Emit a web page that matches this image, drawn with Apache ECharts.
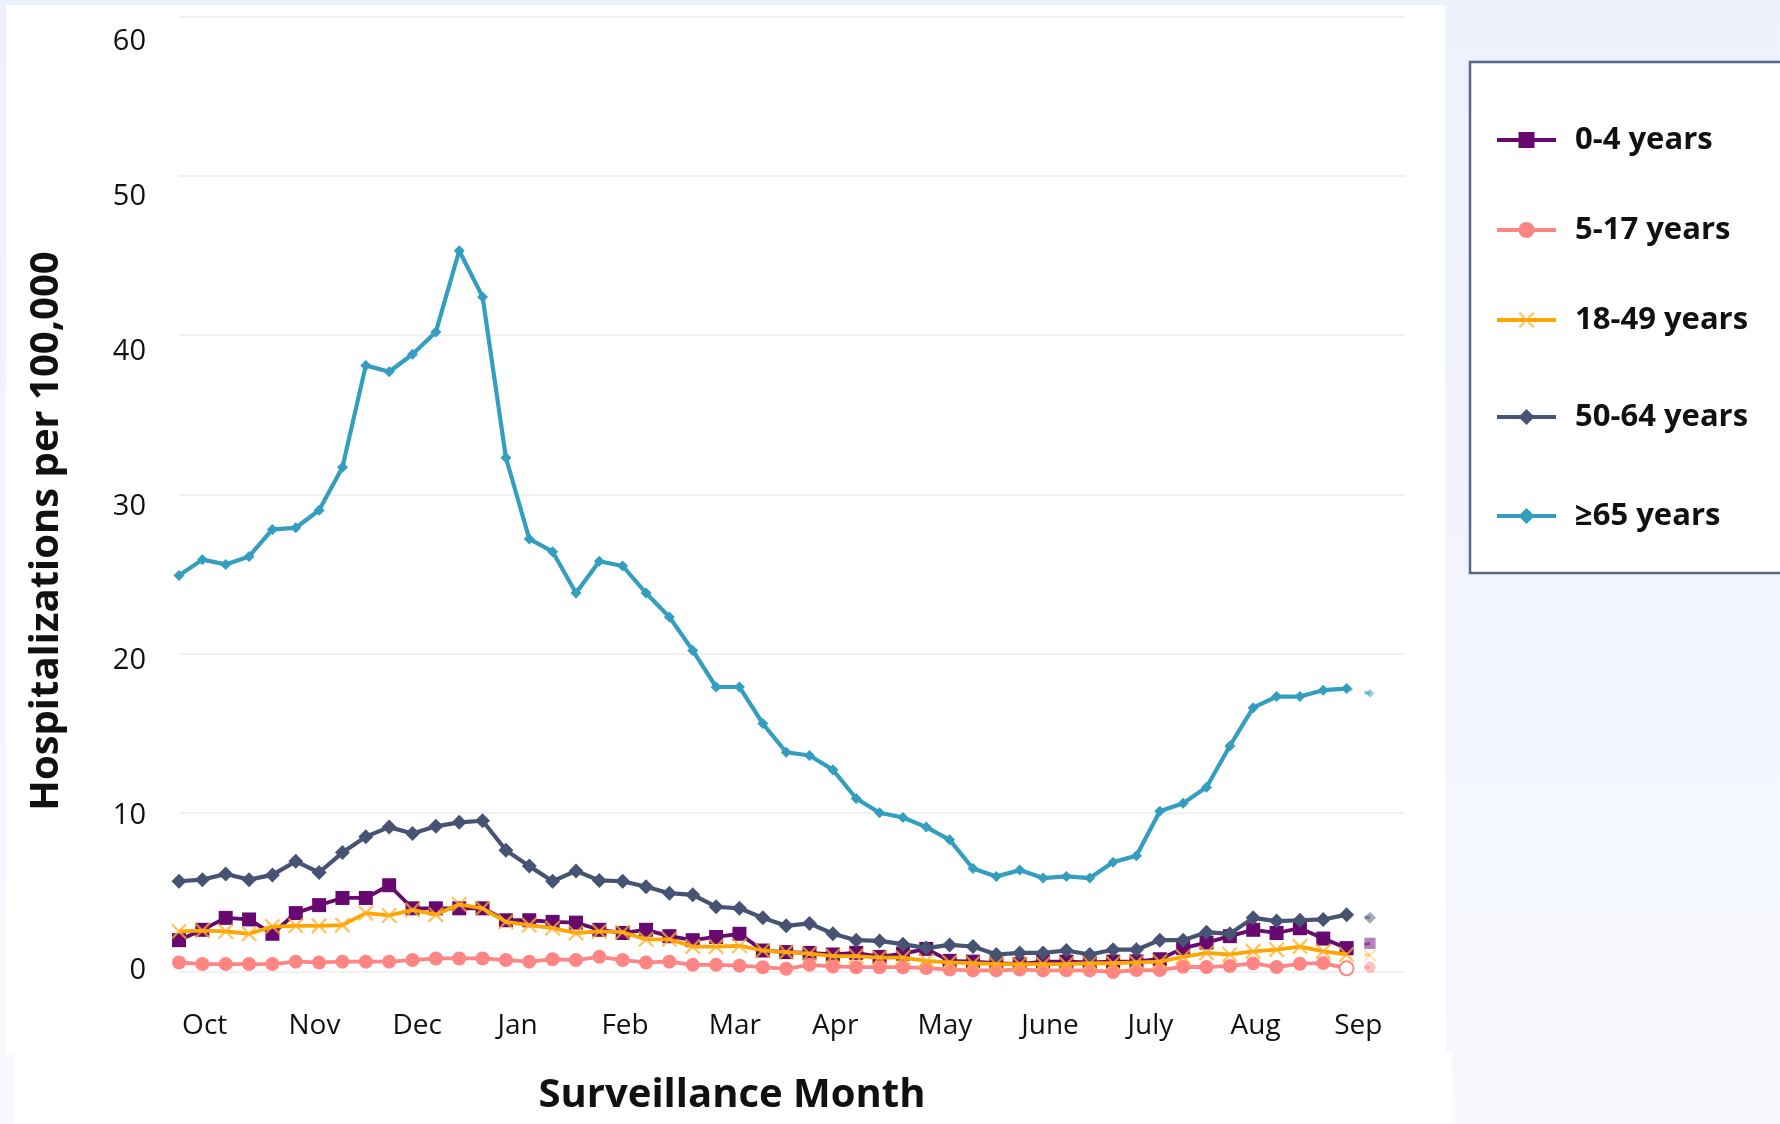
<!DOCTYPE html>
<html>
<head>
<meta charset="utf-8">
<script src="https://cdn.jsdelivr.net/npm/echarts@6/dist/echarts.min.js"></script>
<style>
html,body{margin:0;padding:0;background:#eef2fc;}
#c{width:1780px;height:1124px;}
</style>
</head>
<body>
<div id="c"></div>
<script>
// ---- data ----
const ageGroups = ['0-4 years', '5-17 years', '18-49 years', '50-64 years', '≥65 years'];
const monthLabels = ['Oct', 'Nov', 'Dec', 'Jan', 'Feb', 'Mar', 'Apr', 'May', 'June', 'July', 'Aug', 'Sep'];
// month label positions, in surveillance-week units (week 0 = first week shown)
const monthTickPos = [1.1, 5.8, 10.2, 14.5, 19.1, 23.8, 28.1, 32.8, 37.3, 41.6, 46.1, 50.5];
// weekly rates per 100,000 (52 weeks; the last week is provisional)
const rate0to4 = [2.0, 2.65, 3.4, 3.3, 2.4, 3.7, 4.2, 4.65, 4.65, 5.45, 4.0, 4.0, 4.0, 4.0, 3.25, 3.25, 3.15, 3.1, 2.65, 2.45,
  2.65, 2.25, 2.0, 2.2, 2.4, 1.35, 1.25, 1.2, 1.1, 1.2, 0.95, 1.15, 1.45, 0.7, 0.65, 0.55, 0.5, 0.65, 0.65, 0.6,
  0.65, 0.67, 0.8, 1.5, 1.85, 2.25, 2.65, 2.45, 2.75, 2.1, 1.5, 1.8];
const rate5to17 = [0.6, 0.5, 0.5, 0.5, 0.5, 0.65, 0.6, 0.65, 0.65, 0.65, 0.75, 0.85, 0.85, 0.85, 0.75, 0.65, 0.8, 0.75, 0.95, 0.75,
  0.6, 0.65, 0.45, 0.45, 0.4, 0.3, 0.2, 0.45, 0.35, 0.3, 0.3, 0.3, 0.25, 0.15, 0.1, 0.1, 0.15, 0.1, 0.1, 0.1,
  0.0, 0.12, 0.12, 0.33, 0.31, 0.38, 0.54, 0.31, 0.52, 0.56, 0.23, 0.3];
const rate18to49 = [2.55, 2.6, 2.55, 2.4, 2.85, 2.9, 2.9, 2.95, 3.7, 3.55, 3.9, 3.6, 4.25, 4.0, 3.15, 2.95, 2.75, 2.45, 2.55, 2.5,
  2.05, 2.05, 1.6, 1.6, 1.65, 1.35, 1.25, 1.15, 1.0, 1.0, 0.9, 0.9, 0.7, 0.6, 0.55, 0.5, 0.5, 0.5, 0.5, 0.55,
  0.55, 0.6, 0.65, 0.95, 1.2, 1.1, 1.3, 1.4, 1.6, 1.3, 1.1, 1.05];
const rate50to64 = [5.7, 5.8, 6.15, 5.8, 6.1, 6.95, 6.25, 7.5, 8.5, 9.1, 8.7, 9.15, 9.4, 9.5, 7.65, 6.65, 5.7, 6.35, 5.75, 5.7,
  5.35, 4.95, 4.85, 4.1, 4.0, 3.4, 2.9, 3.05, 2.4, 2.0, 1.95, 1.75, 1.5, 1.7, 1.6, 1.1, 1.2, 1.2, 1.35, 1.1,
  1.4, 1.4, 2.0, 2.0, 2.5, 2.4, 3.4, 3.2, 3.25, 3.3, 3.6, 3.4];
const rate65plus = [24.9, 25.9, 25.6, 26.1, 27.8, 27.9, 29.0, 31.7, 38.1, 37.7, 38.8, 40.2, 45.3, 42.4, 32.3, 27.2, 26.4, 23.8, 25.8, 25.5,
  23.8, 22.3, 20.2, 17.9, 17.9, 15.6, 13.8, 13.6, 12.7, 10.9, 10.0, 9.7, 9.1, 8.3, 6.5, 6.0, 6.4, 5.9, 6.0, 5.9,
  6.9, 7.3, 10.1, 10.6, 11.6, 14.2, 16.6, 17.3, 17.3, 17.7, 17.8, 17.5];
const seriesValues = [rate0to4, rate5to17, rate18to49, rate50to64, rate65plus];

// ---- styles ----
const FONT = 'Open Sans';
const xMarkPath = 'path://M0,1 L1,0 L5,4 L9,0 L10,1 L6,5 L10,9 L9,10 L5,6 L1,10 L0,9 L4,5 Z';
const styles = [
  {color: '#67096f', symbol: 'rect', size: 14, width: 3.8, mark: '#67096f'},
  {color: '#ff8585', symbol: 'circle', size: 14, width: 3.8, mark: '#ff8585'},
  {color: '#ffa500', symbol: xMarkPath, size: 16, width: 3.8, mark: 'rgba(255,175,40,0.75)'},
  {color: '#475372', symbol: 'diamond', size: 15, width: 4.2, mark: '#475372'},
  {color: '#339ebf', symbol: 'diamond', size: 11, width: 4.2, mark: '#339ebf'}
];
const legendCenters = [135, 225, 315, 412, 511];

const series = [];
seriesValues.forEach((vals, k) => {
  const st = styles[k];
  const last = vals.length - 1;
  const solid = vals.slice(0, last).map((v, i) => {
    const item = {value: [i, v]};
    if (k === 1 && i === last - 1) item.itemStyle = {color: '#ffffff', borderColor: st.color, borderWidth: 2};
    return item;
  });
  series.push({
    name: ageGroups[k], type: 'line', xAxisIndex: 0, yAxisIndex: 0,
    data: solid, symbol: st.symbol, symbolSize: st.size, showSymbol: true,
    lineStyle: {color: st.color, width: st.width},
    itemStyle: {color: st.mark},
    z: 2 + k
  });
  series.push({
    name: ageGroups[k], type: 'line', xAxisIndex: 0, yAxisIndex: 0,
    data: [{value: [last - 1, vals[last - 1]], symbol: 'none'}, {value: [last, vals[last]]}],
    symbol: st.symbol, symbolSize: st.size * 0.8,
    lineStyle: {color: st.color, width: st.width * 0.8, type: [6, 12], opacity: 0.5},
    itemStyle: {color: st.mark, opacity: 0.5},
    z: 1
  });
});

const legends = ageGroups.map((name, k) => ({
  data: [name], left: 1490, top: legendCenters[k] - 18, orient: 'vertical',
  itemWidth: 59, itemHeight: 20, selectedMode: false,
  lineStyle: {width: 4},
  textStyle: {fontFamily: FONT, fontSize: 31, fontWeight: 'bold', color: '#111', padding: [0, 0, 0, 14], lineHeight: 36}
}));

const chart = echarts.init(document.getElementById('c'), null, {renderer: 'canvas'});
chart.setOption({
  animation: false,
  backgroundColor: {type: 'linear', x: 0, y: 0, x2: 0, y2: 1,
    colorStops: [{offset: 0, color: '#edf1fc'}, {offset: 1, color: '#f7f9fe'}]},
  graphic: [
    {type: 'rect', z: -10, shape: {x: 6, y: 5, width: 1439, height: 1049}, style: {fill: '#ffffff'}},
    {type: 'rect', z: -10, shape: {x: 13, y: 1053, width: 1439, height: 71}, style: {fill: '#ffffff'}},
    {type: 'rect', z: -10, shape: {x: 1470, y: 62, width: 400, height: 511},
      style: {fill: '#ffffff', stroke: '#56678b', lineWidth: 2.5}},
    {type: 'text', x: 47, y: 531, rotation: Math.PI / 2, z: 10,
      style: {text: 'Hospitalizations per 100,000', fontFamily: FONT, fontSize: 40, fontWeight: 'bold',
        fill: '#111', textAlign: 'center', textVerticalAlign: 'middle'}},
    {type: 'text', x: 732, y: 1096, z: 10,
      style: {text: 'Surveillance Month', fontFamily: FONT, fontSize: 40, fontWeight: 'bold',
        fill: '#111', textAlign: 'center', textVerticalAlign: 'middle'}}
  ],
  legend: legends,
  grid: [
    {left: 179, top: 16.7, width: 1226, height: 955.3, containLabel: false},
    {left: 179, top: 41.7, width: 1226, height: 929.3, containLabel: false}
  ],
  xAxis: [
    {type: 'value', gridIndex: 0, min: 0, max: 52.5,
      axisLine: {show: false}, axisTick: {show: false}, splitLine: {show: false},
      axisLabel: {customValues: monthTickPos, margin: 40, fontFamily: FONT, fontSize: 28, color: '#111',
        formatter: v => {
          let best = 0;
          monthTickPos.forEach((p, i) => { if (Math.abs(p - v) < Math.abs(monthTickPos[best] - v)) best = i; });
          return monthLabels[best];
        }}},
    {type: 'value', gridIndex: 1, min: 0, max: 52.5, show: false}
  ],
  yAxis: [
    {type: 'value', gridIndex: 0, min: 0, max: 60, interval: 10,
      axisLine: {show: false}, axisTick: {show: false}, axisLabel: {show: false},
      splitLine: {lineStyle: {color: '#f1f1f1', width: 2}}},
    {type: 'value', gridIndex: 1, min: 0, max: 60, interval: 10,
      axisLine: {show: false}, axisTick: {show: false}, splitLine: {show: false},
      axisLabel: {margin: 33, fontFamily: FONT, fontSize: 29, color: '#111'}}
  ],
  series: series
});
</script>
</body>
</html>
